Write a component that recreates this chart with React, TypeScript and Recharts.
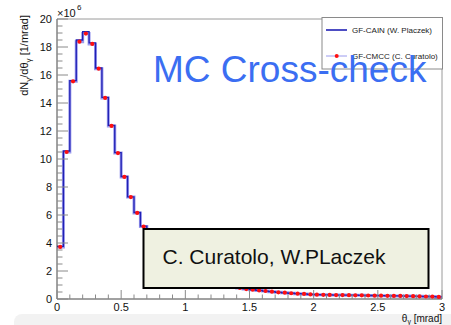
import { ComposedChart, Line, Scatter, XAxis, YAxis, ReferenceLine } from "recharts";

// histogram bin edges, theta_gamma [mrad]
const binEdges = [
  0, 0.05, 0.1, 0.15, 0.2, 0.25, 0.3, 0.35, 0.4, 0.45, 0.5, 0.55, 0.6, 0.65, 0.7,
  0.75, 0.8, 0.85, 0.9, 0.95, 1, 1.05, 1.1, 1.15, 1.2, 1.25, 1.3, 1.35, 1.4, 1.45,
  1.5, 1.55, 1.6, 1.65, 1.7, 1.75, 1.8, 1.85, 1.9, 1.95, 2, 2.05, 2.1, 2.15, 2.2,
  2.25, 2.3, 2.35, 2.4, 2.45, 2.5, 2.55, 2.6, 2.65, 2.7, 2.75, 2.8, 2.85, 2.9, 2.95, 3,
];

// dN/dtheta in units of 1e6
const cainValues = [
  3.76, 10.57, 15.6, 18.5, 19.1, 18.3, 16.5, 14.4, 12.4, 10.45, 8.75, 7.3, 6.18, 5.2,
  4.4, 3.75, 3.2, 2.75, 2.4, 2.1, 1.85, 1.63, 1.45, 1.3, 1.17, 1.06, 0.96, 0.87, 0.79,
  0.72, 0.66, 0.61, 0.56, 0.52, 0.48, 0.44, 0.41, 0.38, 0.36, 0.33, 0.31, 0.3, 0.29,
  0.28, 0.28, 0.27, 0.27, 0.26, 0.25, 0.25, 0.24, 0.23, 0.23, 0.22, 0.21, 0.2, 0.19,
  0.18, 0.17, 0.15,
];

const cmccValues = [
  3.72, 10.5, 15.55, 18.38, 18.96, 18.22, 16.45, 14.36, 12.36, 10.42, 8.72, 7.28, 6.15,
  5.18, 4.38, 3.74, 3.19, 2.74, 2.4, 2.1, 1.84, 1.63, 1.45, 1.3, 1.17, 1.06, 0.96, 0.87,
  0.79, 0.71, 0.66, 0.61, 0.57, 0.52, 0.48, 0.45, 0.41, 0.38, 0.36, 0.33, 0.31, 0.3,
  0.29, 0.28, 0.28, 0.27, 0.26, 0.26, 0.25, 0.24, 0.24, 0.23, 0.22, 0.22, 0.21, 0.2,
  0.19, 0.18, 0.17, 0.15,
];

const xTicks = [
  0, 0.1, 0.2, 0.3, 0.4, 0.5, 0.6, 0.7, 0.8, 0.9, 1, 1.1, 1.2, 1.3, 1.4, 1.5, 1.6,
  1.7, 1.8, 1.9, 2, 2.1, 2.2, 2.3, 2.4, 2.5, 2.6, 2.7, 2.8, 2.9, 3,
];
const xMajor = [0, 0.5, 1, 1.5, 2, 2.5, 3];
const yTicks = Array.from({ length: 41 }, (_, i) => i * 0.5);
const yMajor = [0, 2, 4, 6, 8, 10, 12, 14, 16, 18, 20];

const CAIN_NAME = "GF-CAIN (W. Placzek)";
const CMCC_NAME = "GF-CMCC (C. Curatolo)";
const CAIN_COLOR = "#2020b4";
const CMCC_LINE = "#9a9aee";
const CMCC_DOT = "#ff1010";
const FONT = "'Liberation Sans', Arial, Helvetica, sans-serif";

const stepRows = (vals: number[]) => [
  ...vals.map((y, i) => ({ x: binEdges[i], y })),
  { x: binEdges[vals.length], y: vals[vals.length - 1] },
];
const cainSteps = stepRows(cainValues);
const cmccSteps = stepRows(cmccValues);
const cmccDots = cmccValues.map((y, i) => ({
  x: (binEdges[i] + binEdges[i + 1]) / 2,
  y,
}));

const isMajor = (v: number, list: number[]) =>
  list.some((m) => Math.abs(m - v) < 1e-6);

function XTick({ x, y, payload }: any) {
  const major = isMajor(payload.value, xMajor);
  return (
    <g>
      <line x1={x} x2={x} y1={y} y2={y - (major ? 9 : 4.5)} stroke="#8a8a8a" />
      {major && (
        <text x={x} y={y + 12} textAnchor="middle" fontSize={11} fontFamily={FONT} fill="#111">
          {String(payload.value)}
        </text>
      )}
    </g>
  );
}

function YTick({ x, y, payload }: any) {
  const major = isMajor(payload.value, yMajor);
  return (
    <g>
      <line x1={x} x2={x + (major ? 11 : 5.5)} y1={y} y2={y} stroke="#8a8a8a" />
      {major && (
        <text x={x - 5} y={y} dy="0.36em" textAnchor="end" fontSize={11} fontFamily={FONT} fill="#111">
          {String(payload.value)}
        </text>
      )}
    </g>
  );
}

export default function App() {
  return (
    <div style={{ position: "absolute", left: 0, top: 0, width: 451, height: 325, background: "#fff" }}>
      <div
        style={{
          position: "absolute",
          left: 14,
          top: 314,
          width: 437,
          height: 11,
          background: "#f2f2f2",
          borderTopLeftRadius: 8,
        }}
      />
      <div style={{ position: "absolute", left: 0, top: 0 }}>
        <ComposedChart
          width={451}
          height={325}
          margin={{ top: 19, right: 9, bottom: 0, left: 0 }}
        >
          <XAxis
            type="number"
            dataKey="x"
            domain={[0, 3]}
            ticks={xTicks}
            interval={0}
            tickSize={0}
            tickMargin={0}
            tickLine={false}
            height={26}
            axisLine={{ stroke: "#444" }}
            tick={(p: any) => <XTick {...p} />}
            allowDataOverflow
          />
          <YAxis
            type="number"
            dataKey="y"
            domain={[0, 20]}
            ticks={yTicks}
            interval={0}
            tickSize={0}
            tickMargin={0}
            tickLine={false}
            width={57}
            axisLine={{ stroke: "#444" }}
            tick={(p: any) => <YTick {...p} />}
            allowDataOverflow
          />
          <ReferenceLine y={20} stroke="#9a9a9a" />
          <ReferenceLine x={3} stroke="#9a9a9a" />
          <Line
            data={cmccSteps}
            dataKey="y"
            type="stepAfter"
            stroke={CMCC_LINE}
            strokeWidth={3}
            dot={false}
            isAnimationActive={false}
          />
          <Line
            data={cainSteps}
            dataKey="y"
            type="stepAfter"
            stroke={CAIN_COLOR}
            strokeWidth={1.3}
            dot={false}
            isAnimationActive={false}
          />
          <Scatter
            data={cmccDots}
            dataKey="y"
            isAnimationActive={false}
            shape={(p: any) => <circle cx={p.cx} cy={p.cy} r={2.1} fill={CMCC_DOT} />}
          />
        </ComposedChart>
      </div>
      <svg
        width={451}
        height={325}
        style={{ position: "absolute", left: 0, top: 0, pointerEvents: "none" }}
        fontFamily={FONT}
      >
        {/* exponent */}
        <text x={57} y={17} fontSize={11} fill="#111">×10</text>
        <text x={77} y={10} fontSize={8} fill="#111">6</text>

        {/* axis titles */}
        <text x={28} y={15} fontSize={11} fill="#111" textAnchor="end" transform="rotate(-90 28 15)">
          dN<tspan fontSize={8} dy={3}>γ</tspan>
          <tspan dy={-3}>/dθ</tspan>
          <tspan fontSize={8} dy={3}>γ</tspan>
          <tspan dy={-3}> [1/mrad]</tspan>
        </text>
        <text x={442} y={321.5} fontSize={10} fill="#111" textAnchor="end">
          θ<tspan fontSize={7} dy={2.5}>γ</tspan>
          <tspan dy={-2.5}> [mrad]</tspan>
        </text>

        {/* legend */}
        <rect x={322} y={17.5} width={120.5} height={51.5} fill="#fff" stroke="#8a8a8a" />
        <line x1={326} x2={347} y1={30} y2={30} stroke={CAIN_COLOR} strokeWidth={1.6} />
        <text x={352} y={32.5} fontSize={8} fill="#222">{CAIN_NAME}</text>
        <line x1={326} x2={347} y1={56} y2={56} stroke={CMCC_LINE} strokeWidth={1} />
        <circle cx={336.7} cy={56} r={2} fill={CMCC_DOT} />
        <text x={352} y={58.5} fontSize={8} fill="#222">{CMCC_NAME}</text>

        {/* annotations */}
        <text x={153} y={81.5} fontSize={37} fill="#3b6ef2">MC Cross-check</text>
        <rect x={143.5} y={229} width={285} height={59} fill="#eff1e1" stroke="#000" strokeWidth={2} />
        <text x={162.5} y={264} fontSize={21} fill="#111">C. Curatolo, W.PLaczek</text>
      </svg>
    </div>
  );
}
